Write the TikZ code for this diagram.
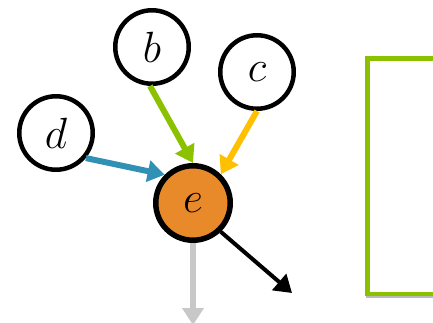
\documentclass[tikz,border=0pt]{standalone}
\usetikzlibrary{arrows.meta, shadows}
\definecolor{cblue}{HTML}{3191B4}
\definecolor{cgreen}{HTML}{8CC100}
\definecolor{cyellow}{HTML}{FFC000}
\definecolor{corange}{HTML}{E8892A}
\definecolor{cgrey}{HTML}{C8C8C8}
\tikzset{
  vertex/.style={circle, draw=black, fill=white, line width=0.09cm, minimum size=1.47cm, inner sep=0pt, font=\fontsize{23}{27}\selectfont},
  arrow/.style={-{Triangle[length=0.34cm, width=0.42cm]}, draw=#1, line width=0.12cm},
  arrow/.default=black,
}
\begin{document}
\begin{tikzpicture}[x=0.02cm, y=-0.02cm,
                    hub/.style={vertex, fill=corange, line width=0.11cm, minimum size=1.49cm, font=\fontsize{28}{32}\selectfont},
                    panel/.style={draw=cgreen, fill=white, line width=0.09cm, minimum width=2.6cm, minimum height=4.72cm, drop shadow={shadow xshift=-0.8pt, shadow yshift=-2pt, opacity=0.45, fill=black!60}}]
  \useasboundingbox (0,0) rectangle (433,322);
  \node[vertex] (b) at (152,47) {$b$};
  \node[vertex] (c) at (257,72) {$c$};
  \node[vertex] (d) at (56,133) {$d$};
  \node[hub] (e) at (193,203) {$e$};
  \coordinate (down) at (193,325);
  \coordinate (out) at (292,293);
  \draw[arrow=cblue] (d.-40) -- (e.135);
  \draw[arrow=cgreen] (b.-93) -- (e.90);
  \draw[arrow=cyellow] (c.-90) -- (e.46);
  \draw[arrow=cgrey] (e.south) -- (down);
  \draw[arrow, line width=0.08cm] (e.-46) -- (out);
  % empty panel, cut by the right edge
  \node[panel, anchor=north west] (box) at (365,56) {};
\end{tikzpicture}
\end{document}
